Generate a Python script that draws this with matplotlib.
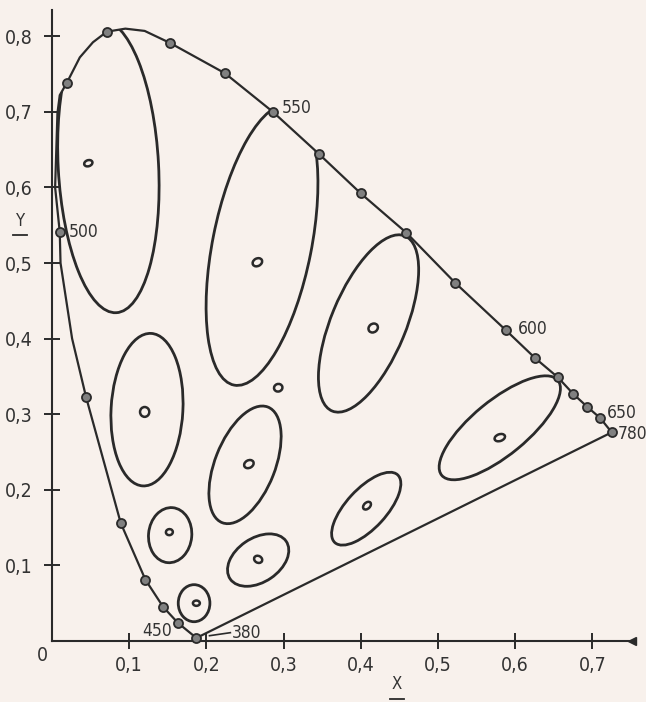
import matplotlib
matplotlib.use("Agg")
import matplotlib.pyplot as plt
from matplotlib.patches import Ellipse, Polygon
from matplotlib.ticker import FixedLocator, FixedFormatter

plt.rcParams['font.family'] = ['DejaVu Sans']
plt.rcParams['font.stretch'] = 'condensed'

# Spectral locus (x, y chromaticity) from 380 nm round to 780 nm
locus_x = [0.187, 0.163, 0.144, 0.121, 0.089, 0.044, 0.026, 0.011, 0.010,
           0.004, 0.007, 0.010, 0.019, 0.036, 0.053, 0.071, 0.095, 0.120,
           0.153, 0.224, 0.286, 0.346, 0.400, 0.459, 0.522, 0.588, 0.626,
           0.655, 0.675, 0.693, 0.710, 0.725]
locus_y = [0.004, 0.024, 0.045, 0.081, 0.156, 0.323, 0.400, 0.500, 0.541,
           0.600, 0.698, 0.722, 0.738, 0.772, 0.792, 0.806, 0.810, 0.807,
           0.791, 0.751, 0.700, 0.644, 0.592, 0.540, 0.474, 0.411, 0.374,
           0.349, 0.327, 0.310, 0.295, 0.276]

# Wavelength marks on the locus
mark_x = [0.187, 0.163, 0.144, 0.121, 0.089, 0.044, 0.010, 0.019, 0.071,
          0.153, 0.224, 0.286, 0.346, 0.400, 0.459, 0.522, 0.588, 0.626,
          0.655, 0.675, 0.693, 0.710, 0.725]
mark_y = [0.004, 0.024, 0.045, 0.081, 0.156, 0.323, 0.541, 0.738, 0.806,
          0.791, 0.751, 0.700, 0.644, 0.592, 0.540, 0.474, 0.411, 0.374,
          0.349, 0.327, 0.310, 0.295, 0.276]

# Wavelength labels (nm)
wl_labels = ["380", "450", "500", "550", "600", "650", "780"]

# Enlarged discrimination ellipses: centre, width, height, angle (deg)
ell_cx = [0.073, 0.272, 0.410, 0.580, 0.123, 0.250, 0.407, 0.267, 0.153, 0.184]
ell_cy = [0.628, 0.524, 0.420, 0.282, 0.306, 0.233, 0.175, 0.107, 0.140, 0.050]
ell_w = [0.130, 0.128, 0.097, 0.196, 0.093, 0.078, 0.121, 0.088, 0.056, 0.041]
ell_h = [0.388, 0.378, 0.250, 0.072, 0.202, 0.164, 0.052, 0.058, 0.073, 0.049]
ell_a = [3, -11, -22, 40, -3, -21, 48, 35, -5, 0]

# Actual-size ellipses at the measuring points
dot_cx = [0.047, 0.266, 0.416, 0.580, 0.120, 0.255, 0.293, 0.408, 0.267, 0.152, 0.187]
dot_cy = [0.632, 0.501, 0.414, 0.269, 0.303, 0.234, 0.335, 0.179, 0.108, 0.144, 0.050]
dot_w = [0.011, 0.013, 0.013, 0.014, 0.012, 0.013, 0.011, 0.012, 0.009, 0.009, 0.009]
dot_h = [0.008, 0.010, 0.011, 0.009, 0.013, 0.010, 0.010, 0.008, 0.011, 0.008, 0.007]
dot_a = [20, 30, 40, 20, 0, 30, 20, 45, 60, 10, 0]

x_ticks = [0.1, 0.2, 0.3, 0.4, 0.5, 0.6, 0.7]
x_tick_labels = ["0,1", "0,2", "0,3", "0,4", "0,5", "0,6", "0,7"]
y_ticks = [0.1, 0.2, 0.3, 0.4, 0.5, 0.6, 0.7, 0.8]
y_tick_labels = ["0,1", "0,2", "0,3", "0,4", "0,5", "0,6", "0,7", "0,8"]

paper = '#f8f1ec'
ink = '#2a2a2a'
txt = '#333333'

fig = plt.figure(figsize=(6.46, 7.02), dpi=100, facecolor=paper)
ax = fig.add_axes([0, 0, 1, 1], facecolor=paper)
ax.set_xlim(-0.0674, 0.7694)
ax.set_ylim(-0.0807, 0.8479)

# axes through the origin
for side in ('top', 'right'):
    ax.spines[side].set_visible(False)
ax.spines['left'].set_position(('data', 0))
ax.spines['bottom'].set_position(('data', 0))
ax.spines['left'].set_bounds(0, 0.835)
ax.spines['bottom'].set_bounds(0, 0.751)
for side in ('left', 'bottom'):
    ax.spines[side].set_color(ink)
    ax.spines[side].set_linewidth(1.5)

ax.xaxis.set_major_locator(FixedLocator(x_ticks))
ax.xaxis.set_major_formatter(FixedFormatter(x_tick_labels))
ax.yaxis.set_major_locator(FixedLocator(y_ticks))
ax.yaxis.set_major_formatter(FixedFormatter(y_tick_labels))
ax.tick_params(direction='inout', length=12, width=1.4, color=ink,
               labelsize=14, labelcolor=txt, pad=5)
ax.tick_params(axis='y', pad=8)
for lab in ax.get_xticklabels() + ax.get_yticklabels():
    lab.set_fontstretch('condensed')

# arrow tip on the x axis
ax.plot([0.751], [0], marker='<', ms=6, color=ink, clip_on=False)

# spectral locus and purple line
ax.plot(locus_x, locus_y, color=ink, lw=1.6, solid_joinstyle='round', zorder=3)
ax.plot([locus_x[-1], locus_x[0]], [locus_y[-1], locus_y[0]], color=ink, lw=1.6, zorder=3)

clip = Polygon(list(zip(locus_x, locus_y)), closed=True, transform=ax.transData,
               facecolor='none', edgecolor='none')
ax.add_patch(clip)

for cx, cy, w, h, a in zip(ell_cx, ell_cy, ell_w, ell_h, ell_a):
    e = Ellipse((cx, cy), w, h, angle=a, fill=False, edgecolor=ink, lw=2.0, zorder=2)
    ax.add_patch(e)
    e.set_clip_path(clip)

for cx, cy, w, h, a in zip(dot_cx, dot_cy, dot_w, dot_h, dot_a):
    ax.add_patch(Ellipse((cx, cy), w, h, angle=a, fill=False, edgecolor=ink, lw=1.8, zorder=2))

ax.plot(mark_x, mark_y, 'o', ms=6.5, mfc='#808080', mec=ink, mew=1.3, zorder=4,
        clip_on=False)

# wavelength annotations
label_pos = {"380": (0.233, 0.011), "450": (0.117, 0.013), "500": (0.022, 0.541),
             "550": (0.298, 0.705), "600": (0.603, 0.413), "650": (0.719, 0.302),
             "780": (0.733, 0.274)}
for lab in wl_labels:
    tx, ty = label_pos[lab]
    ax.text(tx, ty, lab, fontsize=12.5, fontstretch='condensed', color=txt,
            ha='left', va='center', zorder=5)
ax.plot([0.204, 0.231], [0.007, 0.011], color=ink, lw=1.2)

ax.text(-0.013, -0.019, "0", fontsize=14, fontstretch='condensed', color=txt,
        ha='center', va='center')
ax.text(-0.041, 0.556, "Y", fontsize=12, color=txt, ha='center', va='center')
ax.plot([-0.051, -0.033], [0.537, 0.537], color=ink, lw=1.3)
ax.text(0.447, -0.057, "X", fontsize=12, color=txt, ha='center', va='center')
ax.plot([0.438, 0.456], [-0.077, -0.077], color=ink, lw=1.3, clip_on=False)

fig.savefig("out.png", dpi=100, facecolor=paper)
